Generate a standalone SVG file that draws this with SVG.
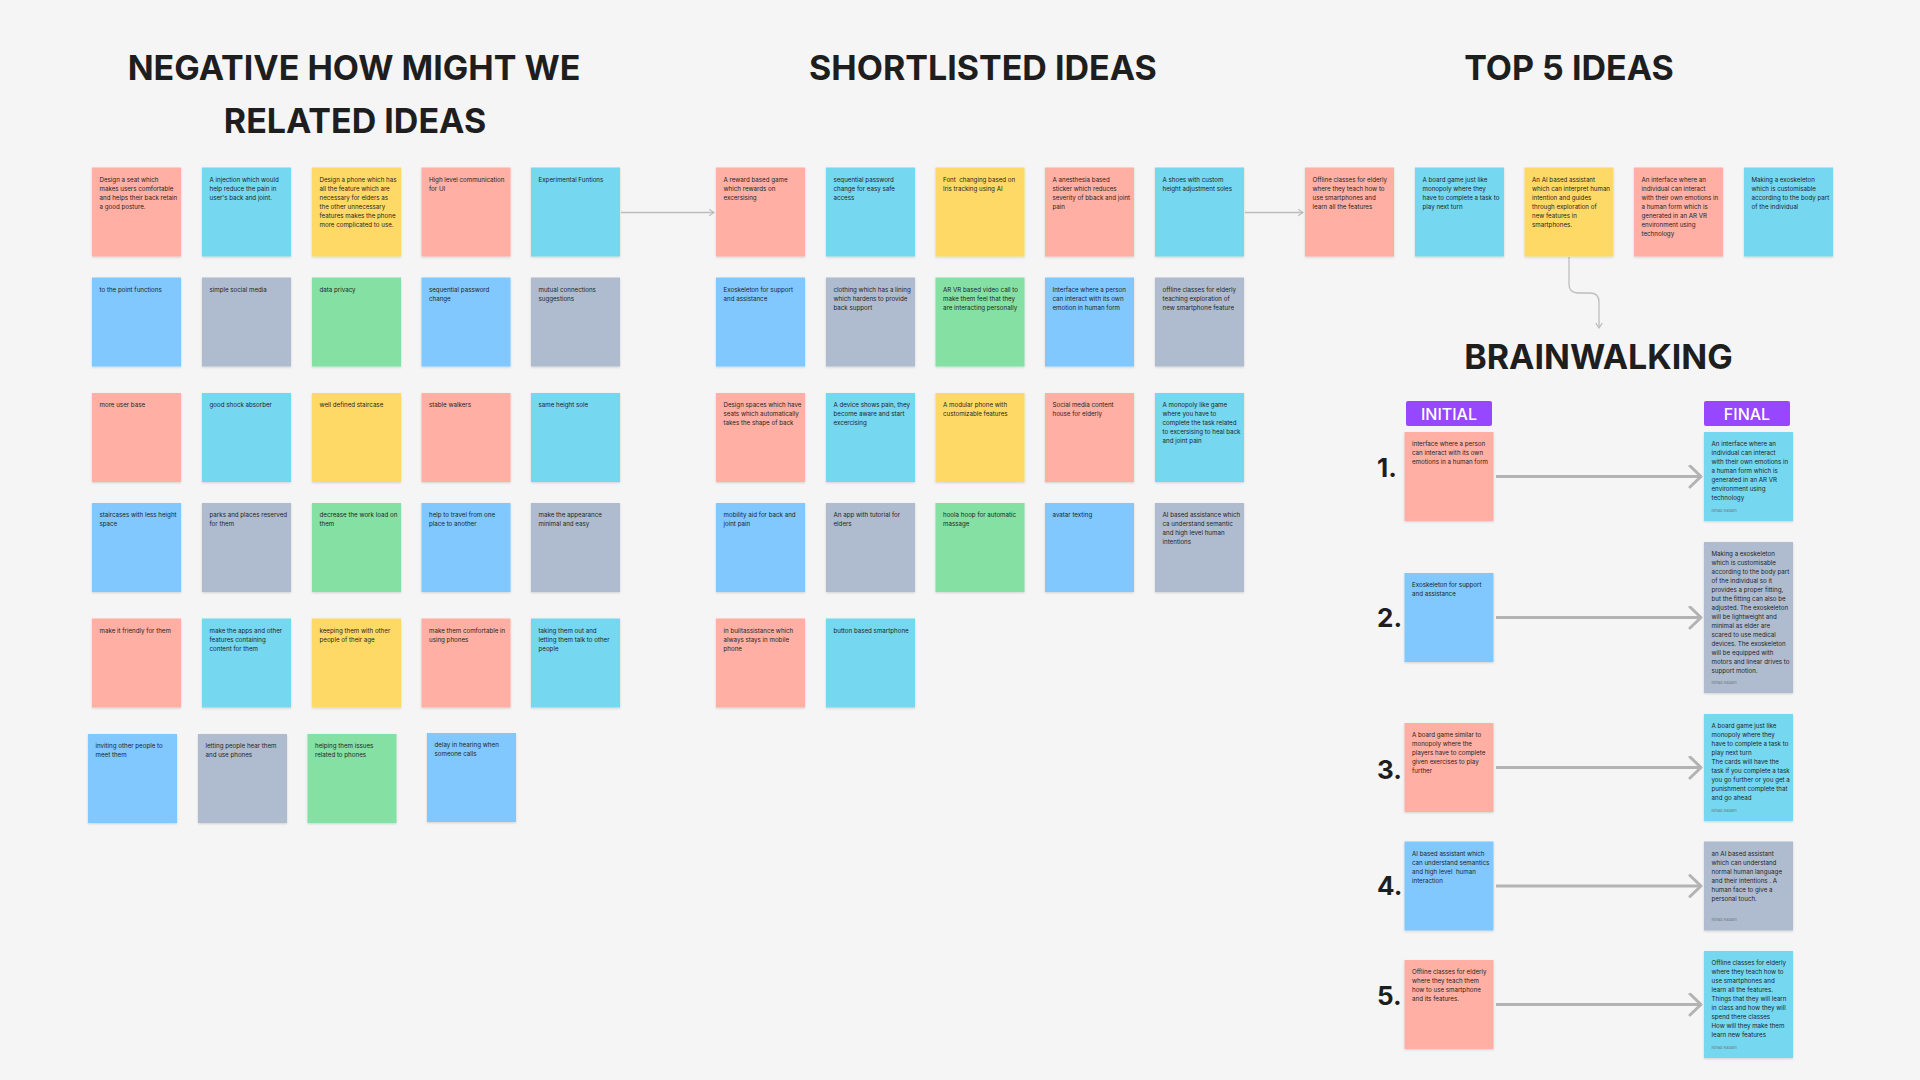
<svg xmlns="http://www.w3.org/2000/svg" width="1920" height="1080" viewBox="0 0 1920 1080">
<defs>
<style>
.n{filter:url(#sh)}
.r{fill:#FFAFA3}.c{fill:#75D7F0}.y{fill:#FFD966}.b{fill:#80C8FF}.g{fill:#AFBCCF}.e{fill:#85E0A3}
.t{font-family:Inter,"Noto Sans","Liberation Sans",sans-serif;font-size:6.2px;fill:#1e1e1e}
.h{font-family:Inter,"Noto Sans","Liberation Sans",sans-serif;font-size:34px;font-weight:700;fill:#1e1e1e;text-anchor:middle}
.num{font-family:Inter,"Noto Sans","Liberation Sans",sans-serif;font-size:26px;font-weight:700;fill:#1e1e1e}
.lb{fill:#9747FF}
.lt{font-family:Inter,"Noto Sans","Liberation Sans",sans-serif;font-size:16px;font-weight:500;fill:#ffffff;text-anchor:middle}
.au{font-family:Inter,"Noto Sans","Liberation Sans",sans-serif;font-size:4px;fill:#6f7a85}
.cn{fill:none;stroke:#bdbdbd;stroke-width:1.3}
.ar{fill:none;stroke:#b3b3b3;stroke-width:3}
</style>
<filter id="sh" x="-10%" y="-10%" width="120%" height="125%">
<feDropShadow dx="0" dy="1" stdDeviation="1" flood-color="#000" flood-opacity="0.15"/>
</filter>
<marker id="ah" viewBox="0 0 10 10" refX="9" refY="5" markerWidth="8" markerHeight="8" orient="auto" markerUnits="userSpaceOnUse">
<path d="M3,1 L9,5 L3,9" fill="none" stroke="#bdbdbd" stroke-width="1.5"/>
</marker>
<marker id="ab" viewBox="0 0 24 24" refX="22" refY="12" markerWidth="24" markerHeight="24" orient="auto" markerUnits="userSpaceOnUse">
<path d="M11,1.5 L22,12 L11,22.5" fill="none" stroke="#b3b3b3" stroke-width="3" stroke-linecap="round" stroke-linejoin="round"/>
</marker>
</defs>
<rect x="0" y="0" width="1920" height="1080" fill="#f5f5f5"/>

<g id="titles">
<text class="h" x="354" y="79.5">NEGATIVE HOW MIGHT WE</text>
<text class="h" x="355" y="132.5">RELATED IDEAS</text>
<text class="h" x="983" y="79.5">SHORTLISTED IDEAS</text>
<text class="h" x="1569" y="79.5">TOP 5 IDEAS</text>
<text class="h" x="1598.5" y="369">BRAINWALKING</text>
</g>

<g id="connectors">
<path class="cn" d="M621 212.5 H714" marker-end="url(#ah)"/>
<path class="cn" d="M1245 212.5 H1303" marker-end="url(#ah)"/>
<path class="cn" d="M1569 257 V284 Q1569 293 1578 293 H1590 Q1599 293 1599 302 V328" marker-end="url(#ah)"/>
<path class="ar" d="M1496 476.5 H1701" marker-end="url(#ab)"/>
<path class="ar" d="M1496 617.5 H1701" marker-end="url(#ab)"/>
<path class="ar" d="M1496 767.5 H1701" marker-end="url(#ab)"/>
<path class="ar" d="M1496 886 H1701" marker-end="url(#ab)"/>
<path class="ar" d="M1496 1004.5 H1701" marker-end="url(#ab)"/>
</g>

<!-- LEFT SECTION -->
<g id="l11"><rect class="n r" x="92" y="167.5" width="89" height="89"/><text class="t" y="181.5"><tspan x="99.5">Design a seat which</tspan><tspan x="99.5" dy="9">makes users comfortable</tspan><tspan x="99.5" dy="9">and helps their back retain</tspan><tspan x="99.5" dy="9">a good posture.</tspan></text></g>
<g id="l12"><rect class="n c" x="202" y="167.5" width="89" height="89"/><text class="t" y="181.5"><tspan x="209.5">A injection which would</tspan><tspan x="209.5" dy="9">help reduce the pain in</tspan><tspan x="209.5" dy="9">user's back and joint.</tspan></text></g>
<g id="l13"><rect class="n y" x="312" y="167.5" width="89" height="89"/><text class="t" y="181.5"><tspan x="319.5">Design a phone which has</tspan><tspan x="319.5" dy="9">all the feature which are</tspan><tspan x="319.5" dy="9">necessary for elders as</tspan><tspan x="319.5" dy="9">the other unnecessary</tspan><tspan x="319.5" dy="9">features makes the phone</tspan><tspan x="319.5" dy="9">more complicated to use.</tspan></text></g>
<g id="l14"><rect class="n r" x="421.5" y="167.5" width="89" height="89"/><text class="t" y="181.5"><tspan x="429">High level communication</tspan><tspan x="429" dy="9">for UI</tspan></text></g>
<g id="l15"><rect class="n c" x="531" y="167.5" width="89" height="89"/><text class="t" y="181.5"><tspan x="538.5">Experimental Funtions</tspan></text></g>

<g id="l21"><rect class="n b" x="92" y="277.5" width="89" height="89"/><text class="t" y="291.5"><tspan x="99.5">to the point functions</tspan></text></g>
<g id="l22"><rect class="n g" x="202" y="277.5" width="89" height="89"/><text class="t" y="291.5"><tspan x="209.5">simple social media</tspan></text></g>
<g id="l23"><rect class="n e" x="312" y="277.5" width="89" height="89"/><text class="t" y="291.5"><tspan x="319.5">data privacy</tspan></text></g>
<g id="l24"><rect class="n b" x="421.5" y="277.5" width="89" height="89"/><text class="t" y="291.5"><tspan x="429">sequential password</tspan><tspan x="429" dy="9">change</tspan></text></g>
<g id="l25"><rect class="n g" x="531" y="277.5" width="89" height="89"/><text class="t" y="291.5"><tspan x="538.5">mutual connections</tspan><tspan x="538.5" dy="9">suggestions</tspan></text></g>

<g id="l31"><rect class="n r" x="92" y="393" width="89" height="89"/><text class="t" y="407"><tspan x="99.5">more user base</tspan></text></g>
<g id="l32"><rect class="n c" x="202" y="393" width="89" height="89"/><text class="t" y="407"><tspan x="209.5">good shock absorber</tspan></text></g>
<g id="l33"><rect class="n y" x="312" y="393" width="89" height="89"/><text class="t" y="407"><tspan x="319.5">well defined staircase</tspan></text></g>
<g id="l34"><rect class="n r" x="421.5" y="393" width="89" height="89"/><text class="t" y="407"><tspan x="429">stable walkers</tspan></text></g>
<g id="l35"><rect class="n c" x="531" y="393" width="89" height="89"/><text class="t" y="407"><tspan x="538.5">same height sole</tspan></text></g>

<g id="l41"><rect class="n b" x="92" y="503" width="89" height="89"/><text class="t" y="517"><tspan x="99.5">staircases with less height</tspan><tspan x="99.5" dy="9">space</tspan></text></g>
<g id="l42"><rect class="n g" x="202" y="503" width="89" height="89"/><text class="t" y="517"><tspan x="209.5">parks and places reserved</tspan><tspan x="209.5" dy="9">for them</tspan></text></g>
<g id="l43"><rect class="n e" x="312" y="503" width="89" height="89"/><text class="t" y="517"><tspan x="319.5">decrease the work load on</tspan><tspan x="319.5" dy="9">them</tspan></text></g>
<g id="l44"><rect class="n b" x="421.5" y="503" width="89" height="89"/><text class="t" y="517"><tspan x="429">help to travel from one</tspan><tspan x="429" dy="9">place to another</tspan></text></g>
<g id="l45"><rect class="n g" x="531" y="503" width="89" height="89"/><text class="t" y="517"><tspan x="538.5">make the appearance</tspan><tspan x="538.5" dy="9">minimal and easy</tspan></text></g>

<g id="l51"><rect class="n r" x="92" y="618.5" width="89" height="89"/><text class="t" y="632.5"><tspan x="99.5">make it friendly for them</tspan></text></g>
<g id="l52"><rect class="n c" x="202" y="618.5" width="89" height="89"/><text class="t" y="632.5"><tspan x="209.5">make the apps and other</tspan><tspan x="209.5" dy="9">features containing</tspan><tspan x="209.5" dy="9">content for them</tspan></text></g>
<g id="l53"><rect class="n y" x="312" y="618.5" width="89" height="89"/><text class="t" y="632.5"><tspan x="319.5">keeping them with other</tspan><tspan x="319.5" dy="9">people of their age</tspan></text></g>
<g id="l54"><rect class="n r" x="421.5" y="618.5" width="89" height="89"/><text class="t" y="632.5"><tspan x="429">make them comfortable in</tspan><tspan x="429" dy="9">using phones</tspan></text></g>
<g id="l55"><rect class="n c" x="531" y="618.5" width="89" height="89"/><text class="t" y="632.5"><tspan x="538.5">taking them out and</tspan><tspan x="538.5" dy="9">letting them talk to other</tspan><tspan x="538.5" dy="9">people</tspan></text></g>

<g id="l61"><rect class="n b" x="88" y="734" width="89" height="89"/><text class="t" y="748"><tspan x="95.5">inviting other people to</tspan><tspan x="95.5" dy="9">meet them</tspan></text></g>
<g id="l62"><rect class="n g" x="198" y="734" width="89" height="89"/><text class="t" y="748"><tspan x="205.5">letting people hear them</tspan><tspan x="205.5" dy="9">and use phones</tspan></text></g>
<g id="l63"><rect class="n e" x="307.5" y="734" width="89" height="89"/><text class="t" y="748"><tspan x="315">helping them issues</tspan><tspan x="315" dy="9">related to phones</tspan></text></g>
<g id="l64"><rect class="n b" x="427" y="733" width="89" height="89"/><text class="t" y="747"><tspan x="434.5">delay in hearing when</tspan><tspan x="434.5" dy="9">someone calls</tspan></text></g>

<!-- MIDDLE SECTION -->
<g id="m11"><rect class="n r" x="716" y="167.5" width="89" height="89"/><text class="t" y="181.5"><tspan x="723.5">A reward based game</tspan><tspan x="723.5" dy="9">which rewards on</tspan><tspan x="723.5" dy="9">excersising</tspan></text></g>
<g id="m12"><rect class="n c" x="826" y="167.5" width="89" height="89"/><text class="t" y="181.5"><tspan x="833.5">sequential password</tspan><tspan x="833.5" dy="9">change for easy safe</tspan><tspan x="833.5" dy="9">access</tspan></text></g>
<g id="m13"><rect class="n y" x="935.5" y="167.5" width="89" height="89"/><text class="t" y="181.5" xml:space="preserve"><tspan x="943">Font  changing based on</tspan><tspan x="943" dy="9">Iris tracking using AI</tspan></text></g>
<g id="m14"><rect class="n r" x="1045" y="167.5" width="89" height="89"/><text class="t" y="181.5"><tspan x="1052.5">A anesthesia based</tspan><tspan x="1052.5" dy="9">sticker which reduces</tspan><tspan x="1052.5" dy="9">severity of bback and joint</tspan><tspan x="1052.5" dy="9">pain</tspan></text></g>
<g id="m15"><rect class="n c" x="1155" y="167.5" width="89" height="89"/><text class="t" y="181.5"><tspan x="1162.5">A shoes with custom</tspan><tspan x="1162.5" dy="9">height adjustment soles</tspan></text></g>

<g id="m21"><rect class="n b" x="716" y="277.5" width="89" height="89"/><text class="t" y="291.5"><tspan x="723.5">Exoskeleton for support</tspan><tspan x="723.5" dy="9">and assistance</tspan></text></g>
<g id="m22"><rect class="n g" x="826" y="277.5" width="89" height="89"/><text class="t" y="291.5"><tspan x="833.5">clothing which has a lining</tspan><tspan x="833.5" dy="9">which hardens to provide</tspan><tspan x="833.5" dy="9">back support</tspan></text></g>
<g id="m23"><rect class="n e" x="935.5" y="277.5" width="89" height="89"/><text class="t" y="291.5"><tspan x="943">AR VR based video call to</tspan><tspan x="943" dy="9">make them feel that they</tspan><tspan x="943" dy="9">are interacting personally</tspan></text></g>
<g id="m24"><rect class="n b" x="1045" y="277.5" width="89" height="89"/><text class="t" y="291.5"><tspan x="1052.5">Interface where a person</tspan><tspan x="1052.5" dy="9">can interact with its own</tspan><tspan x="1052.5" dy="9">emotion in human form</tspan></text></g>
<g id="m25"><rect class="n g" x="1155" y="277.5" width="89" height="89"/><text class="t" y="291.5"><tspan x="1162.5">offline classes for elderly</tspan><tspan x="1162.5" dy="9">teaching exploration of</tspan><tspan x="1162.5" dy="9">new smartphone feature</tspan></text></g>

<g id="m31"><rect class="n r" x="716" y="393" width="89" height="89"/><text class="t" y="407"><tspan x="723.5">Design spaces which have</tspan><tspan x="723.5" dy="9">seats which automatically</tspan><tspan x="723.5" dy="9">takes the shape of back</tspan></text></g>
<g id="m32"><rect class="n c" x="826" y="393" width="89" height="89"/><text class="t" y="407"><tspan x="833.5">A device shows pain, they</tspan><tspan x="833.5" dy="9">become aware and start</tspan><tspan x="833.5" dy="9">excercising</tspan></text></g>
<g id="m33"><rect class="n y" x="935.5" y="393" width="89" height="89"/><text class="t" y="407"><tspan x="943">A modular phone with</tspan><tspan x="943" dy="9">customizable features</tspan></text></g>
<g id="m34"><rect class="n r" x="1045" y="393" width="89" height="89"/><text class="t" y="407"><tspan x="1052.5">Social media content</tspan><tspan x="1052.5" dy="9">house for elderly</tspan></text></g>
<g id="m35"><rect class="n c" x="1155" y="393" width="89" height="89"/><text class="t" y="407"><tspan x="1162.5">A monopoly like game</tspan><tspan x="1162.5" dy="9">where you have to</tspan><tspan x="1162.5" dy="9">complete the task related</tspan><tspan x="1162.5" dy="9">to excersising to heal back</tspan><tspan x="1162.5" dy="9">and joint pain</tspan></text></g>

<g id="m41"><rect class="n b" x="716" y="503" width="89" height="89"/><text class="t" y="517"><tspan x="723.5">mobility aid for back and</tspan><tspan x="723.5" dy="9">joint pain</tspan></text></g>
<g id="m42"><rect class="n g" x="826" y="503" width="89" height="89"/><text class="t" y="517"><tspan x="833.5">An app with tutorial for</tspan><tspan x="833.5" dy="9">elders</tspan></text></g>
<g id="m43"><rect class="n e" x="935.5" y="503" width="89" height="89"/><text class="t" y="517"><tspan x="943">hoola hoop for automatic</tspan><tspan x="943" dy="9">massage</tspan></text></g>
<g id="m44"><rect class="n b" x="1045" y="503" width="89" height="89"/><text class="t" y="517"><tspan x="1052.5">avatar texting</tspan></text></g>
<g id="m45"><rect class="n g" x="1155" y="503" width="89" height="89"/><text class="t" y="517"><tspan x="1162.5">AI based assistance which</tspan><tspan x="1162.5" dy="9">ca understand semantic</tspan><tspan x="1162.5" dy="9">and high level human</tspan><tspan x="1162.5" dy="9">intentions</tspan></text></g>

<g id="m51"><rect class="n r" x="716" y="618.5" width="89" height="89"/><text class="t" y="632.5"><tspan x="723.5">in builtassistance which</tspan><tspan x="723.5" dy="9">always stays in mobile</tspan><tspan x="723.5" dy="9">phone</tspan></text></g>
<g id="m52"><rect class="n c" x="826" y="618.5" width="89" height="89"/><text class="t" y="632.5"><tspan x="833.5">button based smartphone</tspan></text></g>

<!-- TOP 5 -->
<g id="t1"><rect class="n r" x="1305" y="167.5" width="89" height="89"/><text class="t" y="181.5"><tspan x="1312.5">Offline classes for elderly</tspan><tspan x="1312.5" dy="9">where they teach how to</tspan><tspan x="1312.5" dy="9">use smartphones and</tspan><tspan x="1312.5" dy="9">learn all the features</tspan></text></g>
<g id="t2"><rect class="n c" x="1415" y="167.5" width="89" height="89"/><text class="t" y="181.5"><tspan x="1422.5">A board game just like</tspan><tspan x="1422.5" dy="9">monopoly where they</tspan><tspan x="1422.5" dy="9">have to complete a task to</tspan><tspan x="1422.5" dy="9">play next turn</tspan></text></g>
<g id="t3"><rect class="n y" x="1524.5" y="167.5" width="89" height="89"/><text class="t" y="181.5"><tspan x="1532">An AI based assistant</tspan><tspan x="1532" dy="9">which can interpret human</tspan><tspan x="1532" dy="9">intention and guides</tspan><tspan x="1532" dy="9">through exploration of</tspan><tspan x="1532" dy="9">new features in</tspan><tspan x="1532" dy="9">smartphones.</tspan></text></g>
<g id="t4"><rect class="n r" x="1634" y="167.5" width="89" height="89"/><text class="t" y="181.5"><tspan x="1641.5">An interface where an</tspan><tspan x="1641.5" dy="9">individual can interact</tspan><tspan x="1641.5" dy="9">with their own emotions in</tspan><tspan x="1641.5" dy="9">a human form which is</tspan><tspan x="1641.5" dy="9">generated in an AR VR</tspan><tspan x="1641.5" dy="9">environment using</tspan><tspan x="1641.5" dy="9">technology</tspan></text></g>
<g id="t5"><rect class="n c" x="1744" y="167.5" width="89" height="89"/><text class="t" y="181.5"><tspan x="1751.5">Making a exoskeleton</tspan><tspan x="1751.5" dy="9">which is customisable</tspan><tspan x="1751.5" dy="9">according to the body part</tspan><tspan x="1751.5" dy="9">of the individual</tspan></text></g>

<!-- BRAINWALKING -->
<g id="lab-initial"><rect class="lb" x="1406" y="401" width="86" height="25" rx="2"/><text class="lt" x="1449" y="419.5">INITIAL</text></g>
<g id="lab-final"><rect class="lb" x="1704" y="401" width="86" height="25" rx="2"/><text class="lt" x="1747" y="419.5">FINAL</text></g>

<g id="numbers">
<text class="num" x="1377" y="477">1.</text>
<text class="num" x="1377" y="627">2.</text>
<text class="num" x="1377" y="779">3.</text>
<text class="num" x="1377" y="895">4.</text>
<text class="num" x="1377" y="1005">5.</text>
</g>

<g id="i1"><rect class="n r" x="1404.5" y="432" width="89" height="89"/><text class="t" y="446"><tspan x="1412">interface where a person</tspan><tspan x="1412" dy="9">can interact with its own</tspan><tspan x="1412" dy="9">emotions in a human form</tspan></text></g>
<g id="f1"><rect class="n c" x="1704" y="432" width="89" height="89"/><text class="t" y="446"><tspan x="1711.5">An interface where an</tspan><tspan x="1711.5" dy="9">individual can interact</tspan><tspan x="1711.5" dy="9">with their own emotions in</tspan><tspan x="1711.5" dy="9">a human form which is</tspan><tspan x="1711.5" dy="9">generated in an AR VR</tspan><tspan x="1711.5" dy="9">environment using</tspan><tspan x="1711.5" dy="9">technology</tspan></text><text class="au" x="1711.5" y="511.5">Ninad Kadam</text></g>

<g id="i2"><rect class="n b" x="1404.5" y="573" width="89" height="89"/><text class="t" y="587"><tspan x="1412">Exoskeleton for support</tspan><tspan x="1412" dy="9">and assistance</tspan></text></g>
<g id="f2"><rect class="n g" x="1704" y="542" width="89" height="151"/><text class="t" y="556"><tspan x="1711.5">Making a exoskeleton</tspan><tspan x="1711.5" dy="9">which is customisable</tspan><tspan x="1711.5" dy="9">according to the body part</tspan><tspan x="1711.5" dy="9">of the individual so it</tspan><tspan x="1711.5" dy="9">provides a proper fitting,</tspan><tspan x="1711.5" dy="9">but the fitting can also be</tspan><tspan x="1711.5" dy="9">adjusted. The exoskeleton</tspan><tspan x="1711.5" dy="9">will be lightweight and</tspan><tspan x="1711.5" dy="9">minimal as elder are</tspan><tspan x="1711.5" dy="9">scared to use medical</tspan><tspan x="1711.5" dy="9">devices. The exoskeleton</tspan><tspan x="1711.5" dy="9">will be equipped with</tspan><tspan x="1711.5" dy="9">motors and linear drives to</tspan><tspan x="1711.5" dy="9">support motion.</tspan></text><text class="au" x="1711.5" y="683.5">Ninad Kadam</text></g>

<g id="i3"><rect class="n r" x="1404.5" y="723" width="89" height="89"/><text class="t" y="737"><tspan x="1412">A board game similar to</tspan><tspan x="1412" dy="9">monopoly where the</tspan><tspan x="1412" dy="9">players have to complete</tspan><tspan x="1412" dy="9">given exercises to play</tspan><tspan x="1412" dy="9">further</tspan></text></g>
<g id="f3"><rect class="n c" x="1704" y="714" width="89" height="107"/><text class="t" y="728"><tspan x="1711.5">A board game just like</tspan><tspan x="1711.5" dy="9">monopoly where they</tspan><tspan x="1711.5" dy="9">have to complete a task to</tspan><tspan x="1711.5" dy="9">play next turn</tspan><tspan x="1711.5" dy="9">The cards will have the</tspan><tspan x="1711.5" dy="9">task if you complete a task</tspan><tspan x="1711.5" dy="9">you go further or you get a</tspan><tspan x="1711.5" dy="9">punishment complete that</tspan><tspan x="1711.5" dy="9">and go ahead</tspan></text><text class="au" x="1711.5" y="811.5">Ninad Kadam</text></g>

<g id="i4"><rect class="n b" x="1404.5" y="841.5" width="89" height="89"/><text class="t" y="855.5" xml:space="preserve"><tspan x="1412">AI based assistant which</tspan><tspan x="1412" dy="9">can understand semantics</tspan><tspan x="1412" dy="9">and high level  human</tspan><tspan x="1412" dy="9">interaction</tspan></text></g>
<g id="f4"><rect class="n g" x="1704" y="841.5" width="89" height="89"/><text class="t" y="855.5"><tspan x="1711.5">an AI based assistant</tspan><tspan x="1711.5" dy="9">which can understand</tspan><tspan x="1711.5" dy="9">normal human language</tspan><tspan x="1711.5" dy="9">and their intentions . A</tspan><tspan x="1711.5" dy="9">human face to give a</tspan><tspan x="1711.5" dy="9">personal touch.</tspan></text><text class="au" x="1711.5" y="921">Ninad Kadam</text></g>

<g id="i5"><rect class="n r" x="1404.5" y="960" width="89" height="89"/><text class="t" y="974"><tspan x="1412">Offline classes for elderly</tspan><tspan x="1412" dy="9">where they teach them</tspan><tspan x="1412" dy="9">how to use smartphone</tspan><tspan x="1412" dy="9">and its features.</tspan></text></g>
<g id="f5"><rect class="n c" x="1704" y="951" width="89" height="107"/><text class="t" y="965"><tspan x="1711.5">Offline classes for elderly</tspan><tspan x="1711.5" dy="9">where they teach how to</tspan><tspan x="1711.5" dy="9">use smartphones and</tspan><tspan x="1711.5" dy="9">learn all the features.</tspan><tspan x="1711.5" dy="9">Things that they will learn</tspan><tspan x="1711.5" dy="9">in class and how they will</tspan><tspan x="1711.5" dy="9">spend there classes</tspan><tspan x="1711.5" dy="9">How will they make them</tspan><tspan x="1711.5" dy="9">learn new features</tspan></text><text class="au" x="1711.5" y="1048.5">Ninad Kadam</text></g>
</svg>
